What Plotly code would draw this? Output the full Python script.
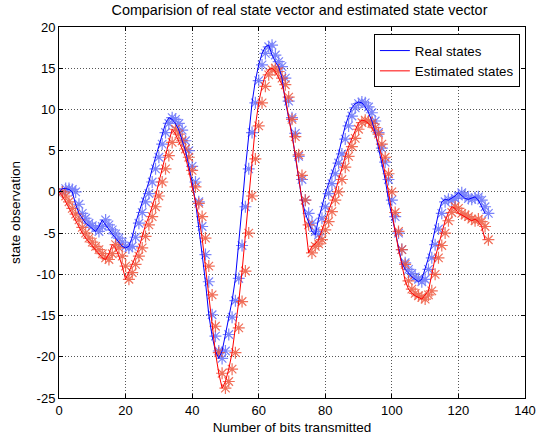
import plotly.graph_objects as go

# Real state values (sample index 0..128)
real_states = [
    0.0, 0.4, 0.4, 0.3, 0.0, -1.5, -2.6, -3.2, -3.8, -4.1,
    -4.4, -4.8, -4.2, -3.4, -4.0, -4.6, -5.1, -5.6, -6.1, -6.6,
    -6.8, -6.6, -5.5, -3.8, -2.5, -1.2, -0.2, 1.2, 2.8, 4.2,
    5.8, 7.2, 8.3, 9.0, 8.8, 8.3, 7.5, 6.2, 5.0, 3.1,
    1.2, -1.2, -4.2, -7.6, -10.9, -14.9, -17.5, -19.3, -20.2, -19.3,
    -17.3, -15.2, -13.2, -10.5, -6.5, -1.8, 2.8, 7.2, 10.8, 13.5,
    15.4, 16.8, 17.6, 17.8, 16.6, 15.8, 15.2, 13.8, 11.0, 9.0,
    7.1, 4.3, 1.5, -1.0, -2.6, -3.8, -4.8, -5.2, -3.2, -1.8,
    -0.2, 1.0, 2.2, 3.5, 4.6, 6.4, 8.0, 9.2, 10.2, 10.7,
    10.9, 10.8, 10.3, 9.6, 8.6, 7.2, 5.3, 3.6, 1.5, -1.0,
    -3.0, -5.0, -7.0, -8.6, -9.4, -9.9, -10.3, -10.6, -10.9, -10.6,
    -9.4, -8.0, -6.4, -4.5, -2.6, -1.2, -0.9, -1.0, -0.8, -0.5,
    -0.1, -0.4, -0.8, -0.9, -0.7, -0.6, -1.0, -1.8, -2.6,
]

# Estimated state values (sample index 0..128)
estimated_states = [
    0.0, -0.5, -1.2, -2.0, -2.7, -3.4, -4.3, -5.0, -5.6, -6.1,
    -6.6, -7.0, -7.5, -8.0, -8.2, -7.5, -6.4, -6.8, -7.8, -9.0,
    -10.6, -9.8, -8.8, -7.8, -6.8, -5.4, -4.0, -3.0, -1.8, -0.5,
    1.2, 2.8, 4.4, 6.0, 7.6, 7.0, 6.2, 5.2, 4.2, 2.6,
    0.6, -1.4, -3.0, -5.6, -9.0, -12.5, -16.3, -19.5, -22.0, -23.8,
    -23.0, -21.5, -19.5, -16.5, -13.3, -9.6, -5.0, -0.5, 4.0, 8.0,
    10.8, 12.8, 14.2, 14.8, 15.0, 14.6, 13.8, 13.0, 11.5, 8.8,
    6.7, 4.5, 2.0, -1.0, -4.0, -7.4, -6.6, -6.3, -5.8, -4.6,
    -3.6, -2.4, -1.0, 0.0, 1.5, 3.0, 4.3, 5.5, 6.5, 7.6,
    8.4, 8.7, 8.6, 8.3, 7.8, 7.0, 5.8, 4.2, 2.2, 0.0,
    -2.5, -4.8, -7.0, -8.8, -10.8, -11.8, -12.3, -12.6, -12.8, -13.0,
    -12.5, -12.0, -10.0, -8.0, -6.5, -5.0, -3.5, -2.5, -1.8, -2.0,
    -2.6, -2.8, -3.0, -3.3, -3.5, -3.3, -3.6, -4.2, -5.8,
]

x_ticks = [0, 20, 40, 60, 80, 100, 120, 140]
y_ticks = [-25, -20, -15, -10, -5, 0, 5, 10, 15, 20]

line_x = list(range(len(real_states)))
marker_x = [v + 1 for v in line_x]

BLUE = "#0000ff"
RED = "#ff0000"
FONT = "Liberation Sans, Arial, sans-serif"

fig = go.Figure()

for vals, col in ((real_states, BLUE), (estimated_states, RED)):
    fig.add_trace(go.Scatter(x=marker_x, y=vals, mode="markers",
                             marker=dict(symbol="asterisk-open", size=10,
                                         line=dict(color=col, width=1.2)),
                             opacity=0.85,
                             showlegend=False, hoverinfo="skip"))

fig.add_trace(go.Scatter(x=line_x, y=real_states, mode="lines",
                         line=dict(color=BLUE, width=1), name="Real states"))
fig.add_trace(go.Scatter(x=line_x, y=estimated_states, mode="lines",
                         line=dict(color=RED, width=1), name="Estimated states"))

axis_common = dict(
    showline=True, linecolor="black", linewidth=1, mirror="ticks",
    ticks="inside", ticklen=4, tickcolor="black",
    showgrid=True, gridcolor="#555555", griddash="1px,2px", gridwidth=1,
    zeroline=False, automargin=False,
    tickfont=dict(family=FONT, size=13, color="black"),
)

fig.update_xaxes(range=[0, 140], tickvals=x_ticks,
                 ticktext=[str(v) for v in x_ticks],
                 title=dict(text="Number of bits transmitted",
                            font=dict(family=FONT, size=13.5, color="black"),
                            standoff=5),
                 **axis_common)
fig.update_yaxes(range=[-25, 20], tickvals=y_ticks,
                 ticktext=[str(v) for v in y_ticks],
                 title=dict(text="state observation",
                            font=dict(family=FONT, size=13.5, color="black"),
                            standoff=12),
                 **axis_common)

fig.update_layout(
    width=538, height=441,
    margin=dict(l=59, r=13, t=27, b=43),
    paper_bgcolor="white", plot_bgcolor="white",
    title=dict(text="Comparision of real state vector and estimated state vector",
               font=dict(family=FONT, size=14.4, color="black"),
               x=0.516, xref="paper", xanchor="center",
               y=0.977, yref="container", yanchor="middle"),
    legend=dict(x=0.989, y=0.98, xanchor="right", yanchor="top",
                bgcolor="white", bordercolor="black", borderwidth=1,
                font=dict(family=FONT, size=13.3, color="black"),
                tracegroupgap=0),
    showlegend=True,
)

fig.write_html("out.html",
               config={"displayModeBar": False},
               post_script="document.body.style.margin='0';"
                           "document.body.style.overflow='hidden';")
